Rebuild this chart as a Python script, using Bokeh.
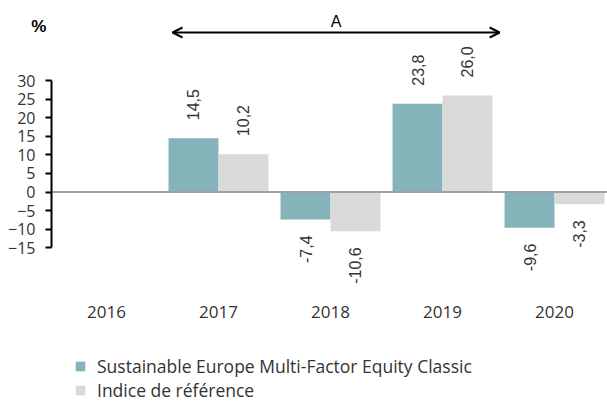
import math
from bokeh.plotting import figure
from bokeh.models import (ColumnDataSource, Range1d, FixedTicker, Arrow,
                          OpenHead, Label, Legend, LegendItem)
from bokeh.transform import dodge
from bokeh.core.properties import value
from bokeh.embed import file_html
from bokeh.resources import INLINE

# ---- data ----
years = [2016, 2017, 2018, 2019, 2020]
fund = [float("nan"), 14.5, -7.4, 23.8, -9.6]
benchmark = [float("nan"), 10.2, -10.6, 26.0, -3.3]
y_ticks = [-15, -10, -5, 0, 5, 10, 15, 20, 25, 30]
series_names = ["Sustainable Europe Multi-Factor Equity Classic", "Indice de référence"]
colors = ["#84B4BA", "#D9D9D9"]
period_label = "A"
period_years = [2016.59, 2019.51]
unit_label = "%"

BAR_W = 0.446
OFFS = [-0.223, 0.223]
TXT = "#333333"
X0, X1 = 2015.054, 2020.473        # visible x span (whole canvas)
Y0, Y1 = -56.45, 51.60             # visible y span (whole canvas)
AXIS_X = 2015.509                  # where the value axis stands
AXIS_Y = -26.54                    # where the category labels hang


def fmt(v):
    return "" if math.isnan(v) else f"{v:.1f}".replace(".", ",")


p = figure(width=607, height=401, output_backend="svg", toolbar_location=None,
           x_range=Range1d(X0, X1), y_range=Range1d(Y0, Y1),
           min_border_left=0, min_border_right=0, min_border_top=0,
           min_border_bottom=0)
p.outline_line_color = None
p.xgrid.grid_line_color = None
p.ygrid.grid_line_color = None
p.background_fill_color = "white"
p.border_fill_color = "white"

renderers = []
for vals, off, col in zip([fund, benchmark], OFFS, colors):
    src = ColumnDataSource(dict(x=years, y=vals))
    r = p.vbar(x=dodge("x", off, range=p.x_range), top="y", bottom=0, width=BAR_W,
               source=src, fill_color=col, line_color=None)
    renderers.append(r)
    ok = [(x, v) for x, v in zip(years, vals) if not math.isnan(v)]
    pos = ColumnDataSource(dict(x=[x for x, v in ok if v >= 0], y=[v for x, v in ok if v >= 0],
                                label=[fmt(v) for x, v in ok if v >= 0]))
    neg = ColumnDataSource(dict(x=[x for x, v in ok if v < 0], y=[v for x, v in ok if v < 0],
                                label=[fmt(v) for x, v in ok if v < 0]))
    p.text(x=dodge("x", off, range=p.x_range), y="y", text="label", source=pos,
           angle=math.pi / 2, text_align="left", text_baseline="middle",
           y_offset=-18, text_font=value("Liberation Sans"), text_font_size="16px",
           text_color=TXT)
    p.text(x=dodge("x", off, range=p.x_range), y="y", text="label", source=neg,
           angle=math.pi / 2, text_align="right", text_baseline="middle",
           y_offset=16, text_font=value("Liberation Sans"), text_font_size="16px",
           text_color=TXT)

# zero line from the axis to the right edge, over the bars
p.segment(x0=[AXIS_X], x1=[X1], y0=[0], y1=[0], line_color="#A0A0A0", line_width=2)

# axes
p.yaxis.fixed_location = AXIS_X
p.yaxis.ticker = FixedTicker(ticks=y_ticks)
p.yaxis.bounds = (min(y_ticks), max(y_ticks))
p.yaxis.axis_line_color = "black"
p.yaxis.axis_line_width = 2
p.yaxis.major_tick_line_color = "black"
p.yaxis.major_tick_line_width = 2
p.yaxis.major_tick_out = 6
p.yaxis.major_tick_in = 0
p.yaxis.minor_tick_line_color = None
p.yaxis.major_label_standoff = 10
p.yaxis.major_label_text_font = "Open Sans"
p.yaxis.major_label_text_font_size = "16px"
p.yaxis.major_label_text_color = TXT

p.xaxis.fixed_location = AXIS_Y
p.xaxis.ticker = FixedTicker(ticks=years)
p.xaxis.axis_line_color = None
p.xaxis.major_tick_line_color = None
p.xaxis.minor_tick_line_color = None
p.xaxis.major_label_standoff = 10
p.xaxis.major_label_text_font = "Open Sans"
p.xaxis.major_label_text_font_size = "17px"
p.xaxis.major_label_text_color = TXT

# period arrow
p.add_layout(Arrow(start=OpenHead(size=10, line_width=2), end=OpenHead(size=10, line_width=2),
                   x_start=period_years[0], x_end=period_years[1], y_start=42.98, y_end=42.98,
                   line_width=2, line_color="black"))
p.add_layout(Label(x=sum(period_years) / 2, y=45.9, text=period_label, text_align="center",
                   text_baseline="middle", text_font="Liberation Sans", text_font_size="16px",
                   text_color="black"))
p.add_layout(Label(x=2015.397, y=44.6, text=unit_label, text_align="center",
                   text_baseline="middle", text_font="Liberation Sans", text_font_size="17px",
                   text_font_style="bold", text_color="black"))

legend = Legend(items=[LegendItem(label=n, renderers=[r]) for n, r in zip(series_names, renderers)],
                location=(74, -1), orientation="vertical", margin=0, padding=0, spacing=0,
                glyph_width=12, glyph_height=12, label_height=24, label_standoff=11,
                label_text_font="Open Sans", label_text_font_size="17.5px", label_text_color=TXT,
                background_fill_alpha=0, border_line_color=None)
p.add_layout(legend)

open("out.html", "w").write(file_html(p, INLINE))
